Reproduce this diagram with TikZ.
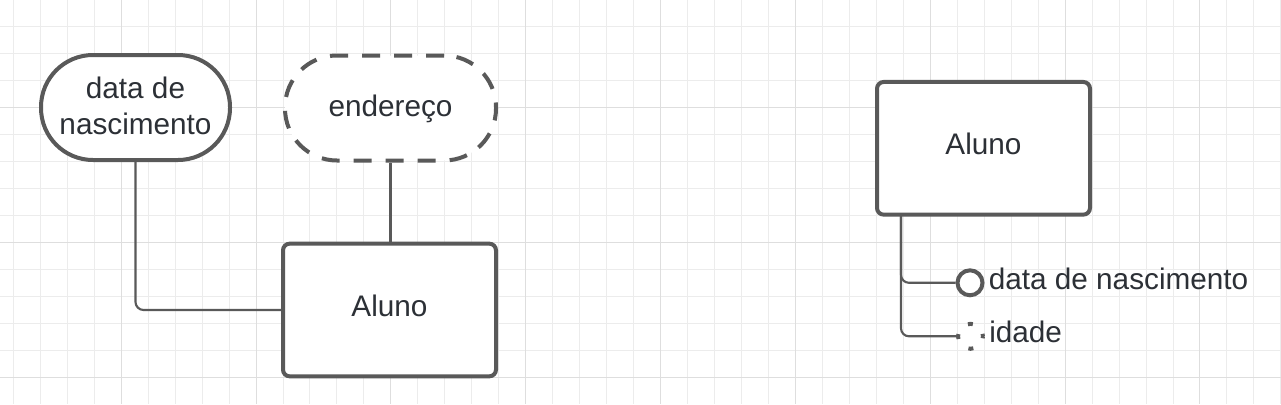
\documentclass[tikz,border=0pt]{standalone}
\usepackage{fontspec}
\setmainfont{Liberation Sans}
\usepackage{xcolor}
\definecolor{linegray}{RGB}{89,89,89}
\definecolor{textgray}{RGB}{44,48,54}
\definecolor{minorgrid}{RGB}{236,236,236}
\definecolor{majorgrid}{RGB}{222,222,222}

\begin{document}
\begin{tikzpicture}[x=0.75pt, y=-0.75pt,
    every node/.style={text=textgray, font=\fontsize{22.3}{27}\selectfont, text depth=6.75pt},
    entity/.style={draw=linegray, line width=3pt, fill=white, rounded corners=5pt,
      minimum width=159.75pt, minimum height=99.5pt},
    attr/.style={draw=linegray, line width=3pt, fill=white, rounded corners=39pt,
      minimum height=78.75pt, align=center, text depth=3pt},
    dashattr/.style={attr, dash pattern=on 13.5pt off 10.5pt},
    link/.style={draw=linegray, line width=1.6pt, rounded corners=6pt},
    dot/.style={circle, draw=linegray, line width=3pt, fill=white, minimum size=18.75pt, inner sep=0pt},
    dashdot/.style={dot, dash pattern=on 3.75pt off 10.98pt, dash phase=1.875pt}]
  \useasboundingbox[fill=white] (0,0) rectangle (1281,404);

  % Draw the grid
  \foreach \i in {0,...,47}
    \draw[minorgrid, line width=0.75pt] ({13.3+\i*26.97},0) -- ++(0,404);
  \foreach \j in {0,...,13}
    \draw[minorgrid, line width=0.75pt] (0,{26+\j*27.04}) -- ++(1281,0);
  \foreach \i in {4,9,...,44}
    \draw[majorgrid, line width=0.75pt] ({13.3+\i*26.97},0) -- ++(0,404);
  \foreach \j in {3,8,13}
    \draw[majorgrid, line width=0.75pt] (0,{26+\j*27.04}) -- ++(1281,0);

  % Chen notation on the left
  \node[attr, minimum width=141.75pt] (nasc) at (135.5,107.5) {data de\\nascimento};
  \node[dashattr, minimum width=158.25pt] (ender) at (390.5,108) {endereço};
  \node[entity] (alunoA) at (389.5,310) {Aluno};
  \draw[link] (nasc.south) |- (alunoA.west);
  \draw[link] (ender.south) -- (ender.south |- alunoA.north);

  % compact notation on the right
  \node[entity] (alunoB) at (983.5,148.3) {Aluno};
  \coordinate (trunk) at (901,215);
  \node[dot] (nascdot) at (970,282.8) {};
  \node[dashdot] (idadedot) at (970.5,336.3) {};
  \draw[link] (trunk) |- (nascdot.west);
  \draw[link] (trunk) |- (idadedot.west);
  \node[anchor=west, inner sep=3pt] (nasctxt) at (nascdot.east) {data de nascimento};
  \node[anchor=west, inner sep=3pt] (idadetxt) at (idadedot.east) {idade};
\end{tikzpicture}
\end{document}
